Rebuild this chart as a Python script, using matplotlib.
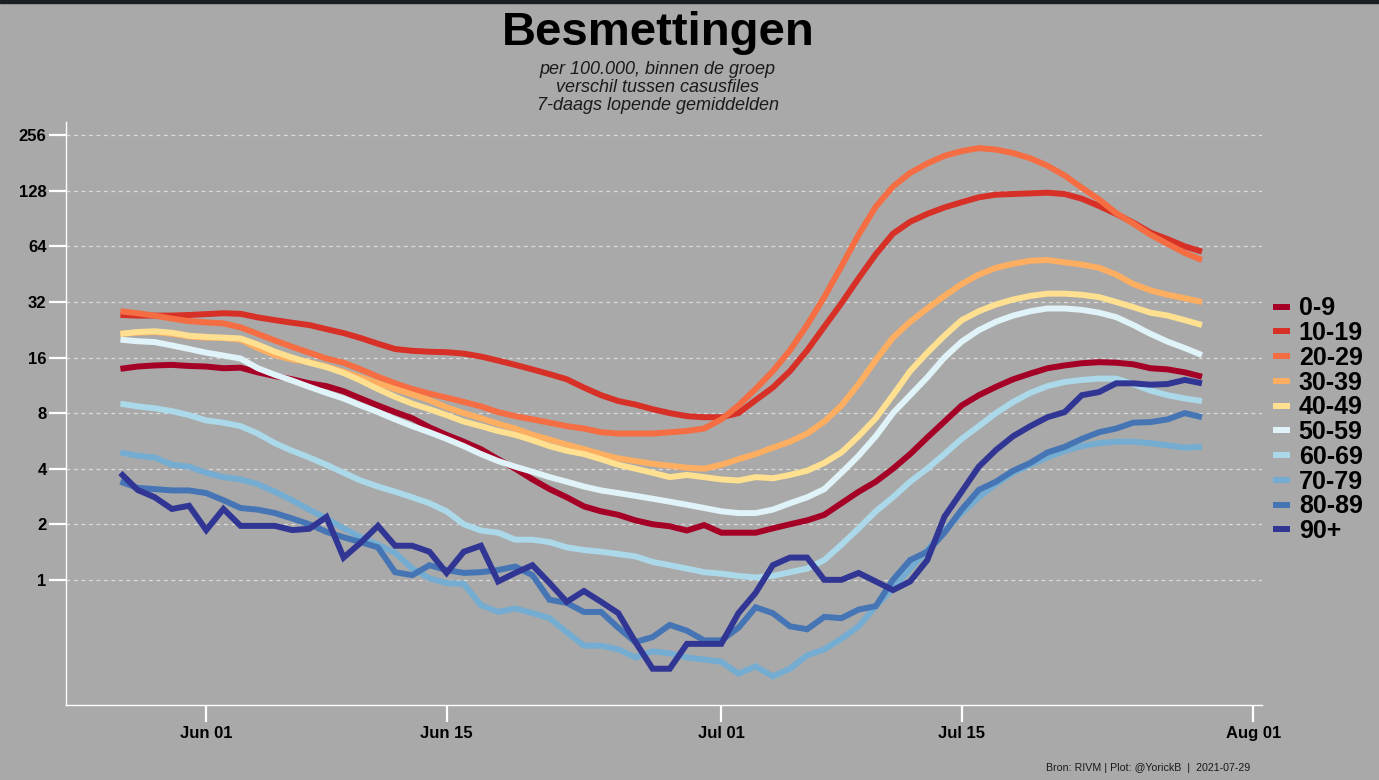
import numpy as np
import pandas as pd
import matplotlib
matplotlib.use("Agg")
import matplotlib.pyplot as plt
import matplotlib.dates as mdates
from matplotlib.patches import Rectangle

# 7-daags lopende gemiddelden per 100.000, 27 mei t/m 29 juli 2021
dates = pd.date_range("2021-05-27", periods=64, freq="D")

age_0_9 = [13.9, 14.3, 14.5, 14.6, 14.4, 14.3, 14.0, 14.1, 13.3, 12.7,
           12.2, 11.6, 11.2, 10.5, 9.6, 8.8, 8.1, 7.5, 6.7, 6.1,
           5.6, 5.1, 4.5, 4.0, 3.5, 3.1, 2.8, 2.5, 2.35, 2.25,
           2.1, 2.0, 1.95, 1.85, 1.98, 1.8, 1.8, 1.8, 1.9, 2.0,
           2.1, 2.25, 2.6, 3.0, 3.4, 4.0, 4.8, 5.9, 7.2, 8.8,
           10.0, 11.1, 12.2, 13.1, 14.0, 14.5, 14.9, 15.1, 15.0, 14.7,
           14.0, 13.8, 13.3, 12.6]
age_10_19 = [27.2, 27.0, 27.0, 27.0, 27.2, 27.5, 27.8, 27.6, 26.4, 25.5,
             24.7, 24.0, 22.8, 21.7, 20.4, 19.0, 17.8, 17.4, 17.2, 17.1,
             16.8, 16.2, 15.4, 14.6, 13.8, 13.0, 12.2, 11.0, 10.0, 9.3,
             8.9, 8.4, 8.0, 7.7, 7.6, 7.6, 8.0, 9.4, 11.0, 13.5,
             17.5, 23.5, 31.5, 43.0, 58.0, 75.0, 87.0, 96.0, 104.0, 111.0,
             118.0, 122.0, 123.0, 124.0, 125.0, 123.0, 116.0, 106.0, 96.0, 86.0,
             76.0, 70.0, 64.0, 60.0]
age_20_29 = [28.5, 27.8, 27.0, 26.0, 25.2, 24.8, 24.5, 23.3, 21.5, 19.8,
             18.3, 17.0, 15.8, 15.0, 13.8, 12.6, 11.6, 10.8, 10.2, 9.7,
             9.2, 8.7, 8.1, 7.7, 7.4, 7.1, 6.8, 6.6, 6.3, 6.2,
             6.2, 6.2, 6.3, 6.4, 6.6, 7.4, 8.8, 10.8, 13.5, 17.5,
             24.0, 34.0, 50.0, 74.0, 105.0, 135.0, 160.0, 180.0, 198.0, 210.0,
             218.0, 214.0, 205.0, 192.0, 175.0, 155.0, 133.0, 115.0, 97.0, 85.0,
             74.0, 66.0, 59.0, 54.0]
age_30_39 = [21.5, 21.8, 22.0, 21.5, 20.8, 20.5, 20.4, 20.0, 18.0, 16.5,
             15.6, 15.1, 14.3, 13.4, 12.5, 11.6, 10.8, 10.1, 9.4, 8.6,
             8.0, 7.5, 7.0, 6.6, 6.1, 5.75, 5.4, 5.1, 4.8, 4.55,
             4.4, 4.25, 4.15, 4.05, 4.0, 4.2, 4.5, 4.8, 5.2, 5.6,
             6.2, 7.2, 8.8, 11.5, 15.5, 20.5, 25.0, 29.5, 34.5, 40.0,
             45.0, 49.0, 51.5, 53.5, 54.0, 52.5, 51.0, 49.0, 45.0, 40.0,
             37.0, 35.0, 33.5, 32.0]
age_40_49 = [21.5, 22.0, 22.2, 21.8, 21.0, 20.7, 20.5, 20.3, 18.8, 17.2,
             16.0, 15.0, 14.2, 13.2, 12.0, 10.8, 9.8, 9.0, 8.4, 7.8,
             7.2, 6.8, 6.4, 6.1, 5.7, 5.3, 5.0, 4.8, 4.5, 4.2,
             4.0, 3.8, 3.6, 3.7, 3.6, 3.5, 3.45, 3.6, 3.55, 3.7,
             3.9, 4.3, 4.9, 6.0, 7.5, 10.0, 13.5, 17.0, 21.0, 25.5,
             28.5, 31.0, 33.0, 34.5, 35.5, 35.5, 35.0, 34.0, 32.0, 30.0,
             28.0, 27.0, 25.5, 24.0]
age_50_59 = [20.0, 19.6, 19.4, 18.6, 17.8, 17.0, 16.4, 15.8, 14.0, 12.9,
             12.0, 11.1, 10.3, 9.6, 8.8, 8.1, 7.4, 6.8, 6.3, 5.8,
             5.3, 4.8, 4.4, 4.1, 3.85, 3.6, 3.4, 3.2, 3.05, 2.95,
             2.85, 2.75, 2.65, 2.55, 2.45, 2.35, 2.3, 2.3, 2.4, 2.6,
             2.8, 3.1, 3.8, 4.7, 6.0, 8.0, 10.0, 12.5, 16.0, 19.5,
             22.5, 25.0, 27.0, 28.5, 29.5, 29.5, 29.0, 28.0, 26.5, 24.0,
             21.5, 19.5, 18.0, 16.5]
age_60_69 = [9.0, 8.7, 8.5, 8.2, 7.8, 7.3, 7.1, 6.8, 6.2, 5.5,
             5.0, 4.6, 4.2, 3.8, 3.45, 3.2, 3.0, 2.8, 2.6, 2.35,
             2.0, 1.85, 1.8, 1.65, 1.65, 1.6, 1.5, 1.45, 1.42, 1.38,
             1.34, 1.25, 1.2, 1.15, 1.1, 1.08, 1.05, 1.03, 1.05, 1.1,
             1.15, 1.28, 1.55, 1.9, 2.35, 2.8, 3.4, 4.0, 4.8, 5.8,
             6.8, 8.0, 9.2, 10.3, 11.2, 11.8, 12.1, 12.3, 12.3, 11.5,
             10.6, 10.0, 9.6, 9.3]
age_70_79 = [4.9, 4.7, 4.6, 4.2, 4.1, 3.8, 3.6, 3.5, 3.3, 3.0,
             2.7, 2.4, 2.15, 1.9, 1.7, 1.55, 1.4, 1.15, 1.02, 0.96,
             0.95, 0.73, 0.67, 0.7, 0.66, 0.62, 0.52, 0.44, 0.44, 0.42,
             0.38, 0.41, 0.40, 0.38, 0.37, 0.36, 0.31, 0.34, 0.30, 0.33,
             0.39, 0.42, 0.48, 0.56, 0.72, 0.9, 1.15, 1.45, 1.85, 2.3,
             2.8, 3.3, 3.8, 4.2, 4.6, 5.0, 5.3, 5.5, 5.6, 5.6,
             5.5, 5.35, 5.2, 5.25]
age_80_89 = [3.4, 3.15, 3.1, 3.05, 3.05, 2.95, 2.7, 2.45, 2.4, 2.3,
             2.15, 2.0, 1.82, 1.7, 1.6, 1.5, 1.1, 1.06, 1.2, 1.13,
             1.09, 1.1, 1.13, 1.18, 1.06, 0.78, 0.75, 0.67, 0.67, 0.55,
             0.46, 0.49, 0.57, 0.53, 0.47, 0.47, 0.55, 0.71, 0.66, 0.56,
             0.54, 0.63, 0.62, 0.69, 0.72, 1.0, 1.28, 1.42, 1.8, 2.4,
             3.07, 3.4, 3.9, 4.3, 4.9, 5.25, 5.8, 6.3, 6.6, 7.1,
             7.15, 7.4, 8.0, 7.6]
age_90_plus = [3.79, 3.07, 2.8, 2.42, 2.52, 1.86, 2.42, 1.96, 1.96, 1.96,
               1.86, 1.89, 2.19, 1.32, 1.59, 1.96, 1.53, 1.53, 1.42, 1.09,
               1.42, 1.53, 0.98, 1.09, 1.2, 0.96, 0.76, 0.87, 0.76, 0.66,
               0.46, 0.33, 0.33, 0.45, 0.45, 0.45, 0.66, 0.85, 1.2, 1.32,
               1.32, 1.0, 1.0, 1.09, 0.98, 0.88, 0.98, 1.28, 2.2, 3.0,
               4.1, 5.05, 6.0, 6.8, 7.6, 8.1, 10.0, 10.4, 11.6, 11.6,
               11.4, 11.5, 12.1, 11.6]

groups = ["0-9", "10-19", "20-29", "30-39", "40-49",
          "50-59", "60-69", "70-79", "80-89", "90+"]
series = [age_0_9, age_10_19, age_20_29, age_30_39, age_40_49,
          age_50_59, age_60_69, age_70_79, age_80_89, age_90_plus]
colors = ["#a50026", "#d73027", "#f46d43", "#fdae61", "#fee090",
          "#e0f3f8", "#abd9e9", "#74add1", "#4575b4", "#313695"]

y_ticks = [1, 2, 4, 8, 16, 32, 64, 128, 256]
x_ticks = ["2021-06-01", "2021-06-15", "2021-07-01", "2021-07-15", "2021-08-01"]

bg = "#a9a9a9"
plt.rcParams["font.family"] = ["Liberation Sans", "DejaVu Sans"]

fig = plt.figure(figsize=(13.79, 7.8), dpi=100, facecolor=bg)
ax = fig.add_axes([0.0479, 0.0962, 0.8673, 0.7474], facecolor=bg)

lines = []
for name, vals, col in zip(groups, series, colors):
    ln, = ax.plot(dates, vals, color=col, lw=4.3, label=name,
                  solid_capstyle="butt", solid_joinstyle="miter")
    lines.append(ln)

ax.set_yscale("log", base=2)
ax.set_ylim(0.21, 302)
ax.set_yticks(y_ticks)
ax.set_yticklabels([str(v) for v in y_ticks])
ax.yaxis.set_minor_locator(matplotlib.ticker.NullLocator())

ax.set_xlim(pd.Timestamp("2021-05-23 20:00"), pd.Timestamp("2021-08-01 12:00"))
ax.set_xticks([pd.Timestamp(t) for t in x_ticks])
ax.xaxis.set_major_formatter(mdates.DateFormatter("%b %d"))

ax.yaxis.grid(True, color="#dcdcdc", linestyle=(0, (3, 3)), lw=0.9)
ax.xaxis.grid(False)
ax.set_axisbelow(True)

for side in ["top", "right"]:
    ax.spines[side].set_visible(False)
for side in ["left", "bottom"]:
    ax.spines[side].set_color("white")
    ax.spines[side].set_linewidth(1.0)

ax.tick_params(axis="both", colors="white", length=12, width=1.6,
               labelcolor="black", labelsize=12)
ax.tick_params(axis="y", pad=2)
ax.tick_params(axis="x", pad=3)
for lab in ax.get_xticklabels() + ax.get_yticklabels():
    lab.set_fontweight("bold")

# titels
fig.text(0.477, 0.942, "Besmettingen", ha="center", va="baseline",
         fontsize=34, fontweight="bold", color="black")
subtitle = ["per 100.000, binnen de groep",
            "verschil tussen casusfiles",
            "7-daags lopende gemiddelden"]
for i, line in enumerate(subtitle):
    fig.text(0.477, 1 - (69 + i * 18.5) / 780, line, ha="center", va="center",
             fontsize=13, fontstyle="italic", color="#1a1a1a")

fig.text(1250 / 1379, 1 - 768 / 780, "Bron: RIVM | Plot: @YorickB  |  2021-07-29",
         ha="right", va="center", fontsize=7.7, color="#1a1a1a")

fig.legend(lines, groups, loc="center left", bbox_to_anchor=(1273 / 1379, 0.462),
           frameon=False, prop={"weight": "bold", "size": 18},
           handlelength=0.67, handletextpad=0.36, labelspacing=0.03,
           borderpad=0, borderaxespad=0)

# donkere rand bovenaan
fig.add_artist(Rectangle((0, 1 - 3 / 780), 1, 3 / 780, transform=fig.transFigure,
                         color="#1b1e23", zorder=0))

fig.savefig("out.png", dpi=100, facecolor=fig.get_facecolor())
